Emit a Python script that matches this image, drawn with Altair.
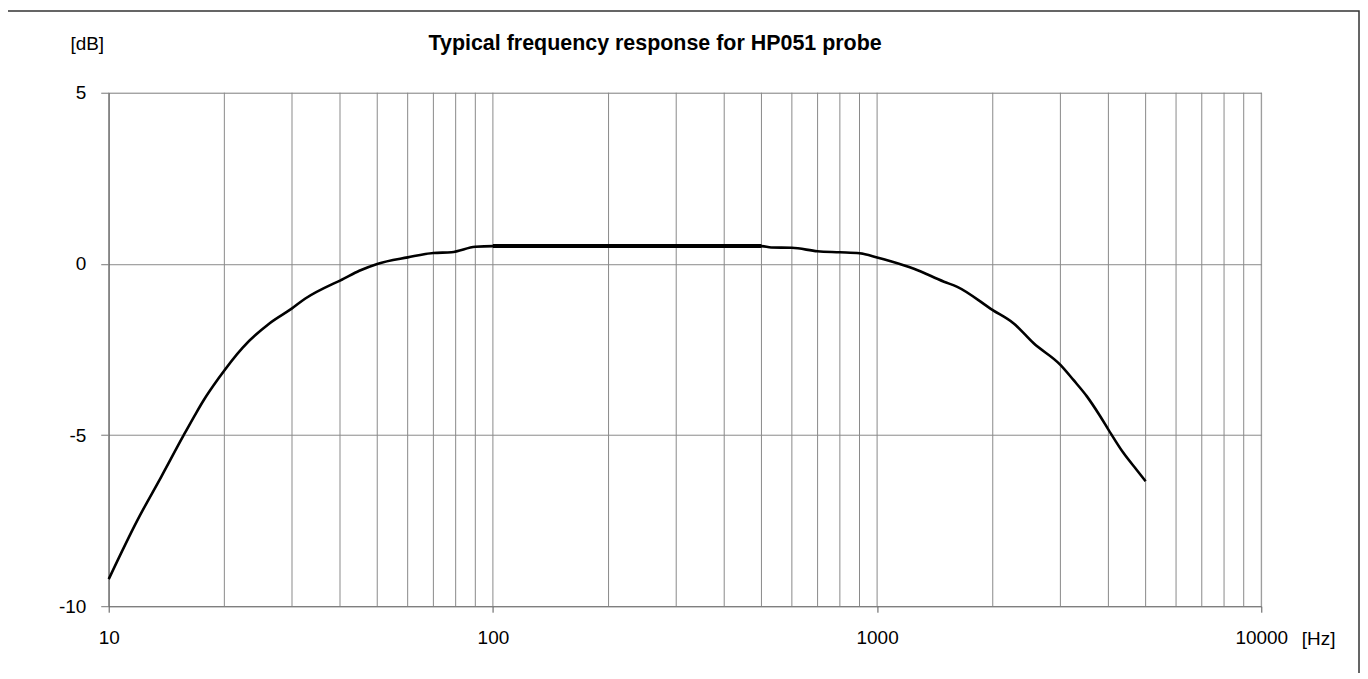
import altair as alt
import pandas as pd

TITLE = "Typical frequency response for HP051 probe"

FREQ = [10, 11.9, 13.7, 15.7, 16.9, 17.7, 19.3, 22.3, 26.2, 30, 32.5, 38.2, 40, 44.9, 50,
        60, 70, 78, 90, 100, 200, 300, 400, 500, 530, 600, 700, 800, 900, 1000,
        1085, 1247, 1493, 1617, 2000, 2268, 2556, 3000, 3243, 3516, 3808, 4000, 4375, 4741, 5000]
DB = [-9.21, -7.47, -6.22, -4.99, -4.35, -3.97, -3.35, -2.45, -1.74, -1.30, -1.01, -0.59, -0.49, -0.20, 0.0,
      0.19, 0.32, 0.34, 0.50, 0.52, 0.52, 0.52, 0.52, 0.52, 0.48, 0.47, 0.37, 0.34, 0.31, 0.19,
      0.08, -0.14, -0.52, -0.67, -1.35, -1.74, -2.32, -2.95, -3.39, -3.87, -4.45, -4.84, -5.52, -6.02, -6.35]

FLAT_FROM, FLAT_TO = 100, 500

GRID_FREQ = [f * m for m in (10, 100, 1000) for f in range(1, 10)] + [10000]
X_LABELS = [10, 100, 1000, 10000]
Y_TICKS = [-10, -5, 0, 5]

W, H = 1156, 515
FONT = "Liberation Sans"

df = pd.DataFrame({"f": FREQ, "db": DB})
flat = df[(df.f >= FLAT_FROM) & (df.f <= FLAT_TO)]
grid = pd.DataFrame({"f": GRID_FREQ})

xs = alt.Scale(type="log", domain=[10, 10000], nice=False)
ys = alt.Scale(domain=[-10, 5], nice=False, zero=False)

x_axis = alt.Axis(values=X_LABELS, format="d", grid=False, tickSize=6, tickColor="#555",
                  domainColor="#777", labelFontSize=19, labelPadding=16, labelColor="#000",
                  labelFont=FONT, labelFlush=False, labelOverlap=False,
                  title="[Hz]", titleFont=FONT, titleFontSize=19,
                  titleFontWeight="normal", titleColor="#000", titleX=1213, titleY=32,
                  titleBaseline="middle", titleAlign="center")
y_axis = alt.Axis(values=Y_TICKS, grid=True, gridColor="#8a8a8a", gridWidth=1, tickSize=8,
                  tickColor="#777", domainColor="#555", labelFontSize=19, labelPadding=15,
                  labelColor="#000", labelFont=FONT, labelExpr="datum.value + ''",
                  title="[dB]", titleFont=FONT,
                  titleFontSize=19, titleFontWeight="normal", titleColor="#000", titleAngle=0,
                  titleX=-22, titleY=-49, titleBaseline="middle", titleAlign="center")

gridlayer = alt.Chart(grid).mark_rule(color="#8a8a8a", strokeWidth=1).encode(
    x=alt.X("f:Q", scale=xs, axis=x_axis)
)

base_y = alt.Y("db:Q", scale=ys, axis=y_axis)

curve = alt.Chart(df).mark_line(color="black", strokeWidth=2.6, strokeJoin="round",
                                interpolate="monotone").encode(
    x=alt.X("f:Q", scale=xs), y=base_y
)
flatline = alt.Chart(flat).mark_line(color="black", strokeWidth=4).encode(
    x=alt.X("f:Q", scale=xs), y=alt.Y("db:Q", scale=ys)
)

title = alt.Chart(pd.DataFrame({"t": [TITLE]})).mark_text(
    font=FONT, fontSize=21.5, fontWeight="bold", color="black", baseline="middle", align="center"
).encode(text="t:N", x=alt.value(548), y=alt.value(-49))

frame = alt.Chart(pd.DataFrame({"a": [0]})).mark_rect(
    fillOpacity=0, stroke="#333", strokeWidth=1.5
).encode(x=alt.value(-102), x2=alt.value(1254), y=alt.value(-82), y2=alt.value(700))

chart = alt.layer(gridlayer, curve, flatline, title, frame).properties(
    width=W, height=H,
    autosize=alt.AutoSizeParams(type="none"),
    padding={"left": 101, "top": 84, "right": 99, "bottom": 66},
).configure_view(stroke="#888", strokeWidth=1).configure(background="white")

chart.save("out.html", embed_options={"renderer": "svg", "actions": False})
